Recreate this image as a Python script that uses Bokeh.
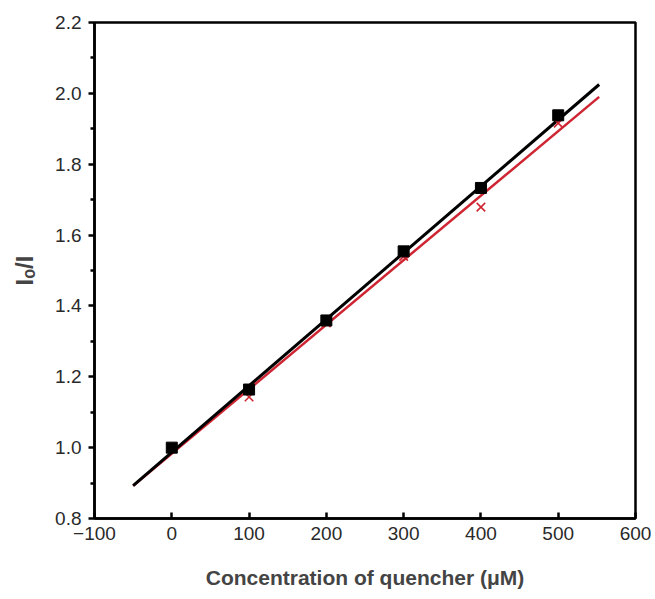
from bokeh.plotting import figure
from bokeh.models import Range1d, FixedTicker
from bokeh.embed import file_html
from bokeh.resources import INLINE

# ---- data ----
conc = [0, 100, 200, 300, 400, 500]
ratio_black = [1.000, 1.164, 1.359, 1.554, 1.733, 1.938]
ratio_red = [1.000, 1.143, 1.352, 1.540, 1.679, 1.916]
fit_x = [-50, 553]
fit_black = [0.893, 2.025]
fit_red = [0.892, 1.990]
x_ticks = [-100, 0, 100, 200, 300, 400, 500, 600]
y_ticks = [0.8, 1.0, 1.2, 1.4, 1.6, 1.8, 2.0, 2.2]
y_minor = [0.9, 1.1, 1.3, 1.5, 1.7, 1.9, 2.1]
y_labels = {0.8: "0.8", 1.0: "1.0", 1.2: "1.2", 1.4: "1.4", 1.6: "1.6",
            1.8: "1.8", 2.0: "2.0", 2.2: "2.2"}

FONT = "Liberation Sans"
RED = "#cf2533"

p = figure(width=655, height=599, output_backend="svg", toolbar_location=None,
           x_range=Range1d(-100, 600), y_range=Range1d(0.8, 2.2),
           min_border_left=94, min_border_right=20, min_border_top=22,
           min_border_bottom=81)

p.background_fill_color = "white"
p.border_fill_color = "white"
p.outline_line_color = "black"
p.outline_line_width = 2.5
p.xgrid.visible = False
p.ygrid.visible = False

# lines
p.line(fit_x, fit_red, line_color=RED, line_width=2.5)
p.line(fit_x, fit_black, line_color="black", line_width=3)
# markers
p.scatter(conc, ratio_red, marker="x", size=12, line_color=RED, line_width=1.6)
p.scatter(conc, ratio_black, marker="square", size=11, fill_color="black",
          line_color="black")

# x axis
xa = p.xaxis[0]
xa.ticker = FixedTicker(ticks=x_ticks, minor_ticks=[])
xa.axis_line_width = 2.5
xa.major_tick_in = 6
xa.major_tick_out = 0
xa.major_tick_line_width = 2.5
xa.minor_tick_line_color = None
xa.major_label_text_font = FONT
xa.major_label_text_font_size = "19px"
xa.major_label_text_color = "#2a2a2a"
xa.major_label_standoff = 8
xa.axis_label = "Concentration of quencher (\u03bcM)"
xa.axis_label_text_font = FONT
xa.axis_label_text_font_style = "bold"
xa.axis_label_text_font_size = "21px"
xa.axis_label_standoff = 23

# y axis
ya = p.yaxis[0]
ya.ticker = FixedTicker(ticks=y_ticks, minor_ticks=y_minor)
ya.major_label_overrides = y_labels
ya.axis_line_width = 2.5
ya.major_tick_in = 0
ya.major_tick_out = 6
ya.major_tick_line_width = 2.5
ya.minor_tick_in = 0
ya.minor_tick_out = 4
ya.minor_tick_line_width = 2.5
ya.major_label_text_font = FONT
ya.major_label_text_font_size = "19px"
ya.major_label_text_color = "#2a2a2a"
ya.major_label_standoff = 7
ya.axis_label = "I\u2092/I"
ya.axis_label_text_font = FONT
ya.axis_label_text_font_style = "bold"
ya.axis_label_text_font_size = "24px"
ya.axis_label_standoff = 14

open("out.html", "w").write(file_html(p, INLINE))
